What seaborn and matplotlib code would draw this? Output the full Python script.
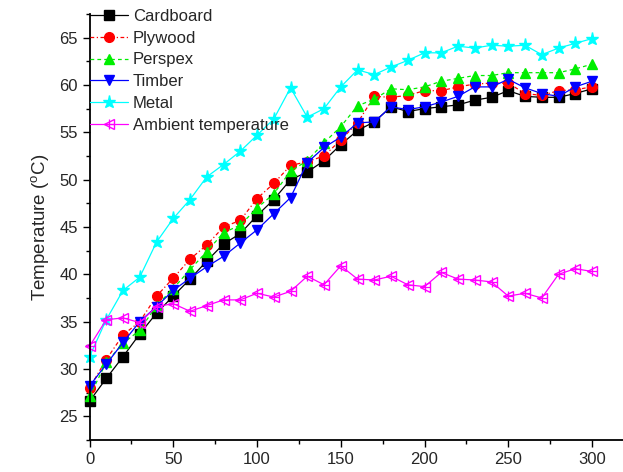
import numpy as np
import pandas as pd
import matplotlib
matplotlib.use("Agg")
import matplotlib.pyplot as plt
import seaborn as sns
from matplotlib.ticker import MultipleLocator
from matplotlib.lines import Line2D

time = list(range(0, 301, 10))
cardboard = [26.6, 29.0, 31.3, 33.7, 35.9, 37.7, 39.5, 41.4, 43.2, 44.3, 46.2, 47.9, 50.0, 50.8, 52.0, 53.7,
             55.2, 56.1, 57.7, 57.2, 57.5, 57.7, 57.9, 58.4, 58.7, 59.4, 58.8, 58.7, 58.7, 59.1, 59.6]
plywood = [28.0, 31.0, 33.6, 35.0, 37.7, 39.6, 41.6, 43.1, 45.0, 45.7, 48.0, 49.6, 51.5, 51.9, 52.5, 54.2,
           56.0, 58.8, 58.7, 58.9, 59.4, 59.4, 59.8, 60.1, 60.2, 60.2, 59.1, 58.9, 59.4, 59.5, 59.8]
perspex = [27.1, 30.7, 32.7, 34.1, 36.7, 38.5, 40.5, 42.4, 44.4, 45.2, 47.0, 48.5, 50.9, 52.0, 53.9, 55.6,
           57.8, 58.5, 59.6, 59.5, 59.8, 60.4, 60.7, 61.0, 61.0, 61.3, 61.3, 61.3, 61.3, 61.7, 62.2]
timber = [28.2, 30.5, 32.8, 35.0, 36.6, 38.3, 39.6, 40.8, 41.9, 43.3, 44.7, 46.4, 48.1, 51.8, 53.4, 54.5,
          56.0, 56.1, 57.7, 57.4, 57.7, 58.2, 58.8, 59.8, 59.8, 60.6, 59.7, 59.1, 58.8, 59.8, 60.4]
metal = [31.3, 35.2, 38.3, 39.7, 43.4, 45.9, 47.9, 50.3, 51.6, 53.0, 54.7, 56.4, 59.7, 56.6, 57.5, 59.8,
         61.6, 61.1, 61.9, 62.6, 63.4, 63.4, 64.1, 63.9, 64.2, 64.1, 64.2, 63.2, 63.9, 64.4, 64.9]
ambient = [32.4, 35.2, 35.4, 34.9, 36.6, 36.9, 36.1, 36.7, 37.3, 37.3, 38.0, 37.6, 38.2, 39.8, 38.9, 40.9,
           39.5, 39.4, 39.8, 38.9, 38.7, 40.2, 39.5, 39.4, 39.2, 37.7, 38.0, 37.5, 40.0, 40.6, 40.3]

series_names = ["Cardboard", "Plywood", "Perspex", "Timber", "Metal", "Ambient temperature"]
df = pd.DataFrame({"time": time, "Cardboard": cardboard, "Plywood": plywood, "Perspex": perspex,
                   "Timber": timber, "Metal": metal, "Ambient temperature": ambient})

sns.set_style("ticks")
plt.rcParams["font.family"] = ["Liberation Sans", "DejaVu Sans"]
plt.rcParams["mathtext.fontset"] = "custom"
plt.rcParams["mathtext.rm"] = "Liberation Sans"

fig = plt.figure(figsize=(6.23, 4.72), dpi=100)
ax = fig.add_axes([89.5 / 623, 32 / 472, (623 - 89.5) / 623, (440 - 14) / 472])

styles = {
    "Cardboard": dict(color="black", marker="s", linestyle="-", markersize=6.5, mfc="black", mec="black", lw=0.9),
    "Plywood": dict(color="red", marker="o", linestyle=(0, (3, 2, 1, 2)), markersize=7, mfc="red", mec="red", lw=0.9),
    "Perspex": dict(color="#00ee00", marker="^", linestyle=(0, (3, 2.5)), markersize=7.5, mfc="#00ee00", mec="#00ee00", lw=0.9),
    "Timber": dict(color="blue", marker="v", linestyle="-", markersize=7.5, mfc="blue", mec="blue", lw=0.9),
    "Metal": dict(color="cyan", marker="*", linestyle="-", markersize=9.5, mfc="cyan", mec="cyan", lw=0.9),
    "Ambient temperature": dict(color="magenta", marker="<", linestyle="-", markersize=7.5, mfc="none", mec="magenta", lw=0.9),
}

for name in series_names:
    st = styles[name]
    sns.lineplot(data=df, x="time", y=name, ax=ax, color=st["color"], marker=st["marker"],
                 linestyle=st["linestyle"], markersize=st["markersize"], markerfacecolor=st["mfc"],
                 markeredgecolor=st["mec"], markeredgewidth=1.0, linewidth=st["lw"], label=name,
                 clip_on=False, legend=False)

# crosshair inside the hollow ambient markers
ax.plot(df["time"], df["Ambient temperature"], linestyle="none", marker="+", markersize=7,
        markeredgecolor="magenta", markeredgewidth=0.9, clip_on=False)

ax.set_xlim(0, 318.5)
ax.set_ylim(22.5, 67.5)
ax.xaxis.set_major_locator(MultipleLocator(50))
ax.xaxis.set_minor_locator(MultipleLocator(25))
ax.yaxis.set_major_locator(MultipleLocator(5))
ax.yaxis.set_minor_locator(MultipleLocator(2.5))
ax.tick_params(which="major", direction="out", length=5, width=1.0, labelsize=12, color="black")
ax.tick_params(which="minor", direction="out", length=3, width=1.0, color="black")
for s in ["left", "bottom"]:
    ax.spines[s].set_linewidth(1.3)
    ax.spines[s].set_color("black")
sns.despine(ax=ax)
ax.set_xlabel("")
ax.set_ylabel(r"Temperature ($\mathregular{^{o}}$C)", fontsize=13.5, labelpad=6)

handles = []
for name in series_names:
    st = styles[name]
    h = Line2D([], [], color=st["color"], marker=st["marker"], linestyle=st["linestyle"],
               markersize=st["markersize"], markerfacecolor=st["mfc"], markeredgecolor=st["mec"],
               linewidth=st["lw"])
    handles.append(h)
plus = Line2D([], [], color="magenta", marker="+", linestyle="none", markersize=7, markeredgewidth=0.9)
handles[-1] = (handles[-1], plus)
leg = ax.legend(handles, series_names, loc="upper left", bbox_to_anchor=(-0.012, 1.028), frameon=False,
                fontsize=12, handlelength=2.3, handletextpad=0.3, labelspacing=0.41, borderaxespad=0.0)

fig.savefig("out.png", dpi=100)
